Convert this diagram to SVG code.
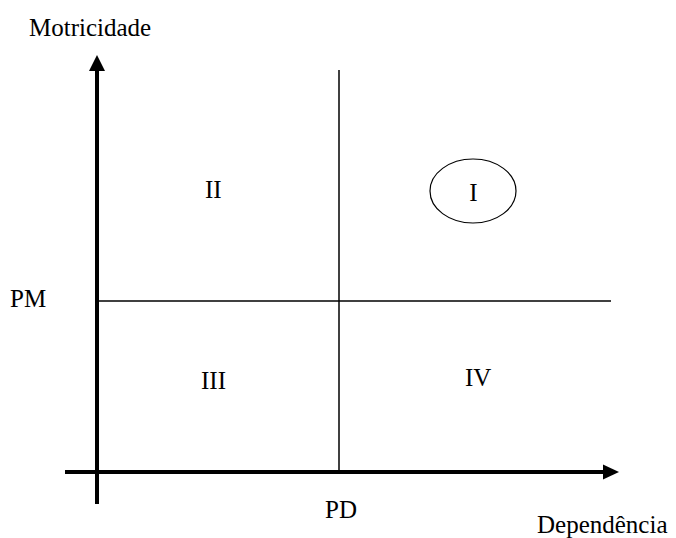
<svg xmlns="http://www.w3.org/2000/svg" width="676" height="538" viewBox="0 0 676 538">
<style>
text{font-family:"Liberation Serif","Times New Roman",serif;font-size:25px;fill:#000}
.axis{stroke:#000;stroke-width:4;fill:none}
.thin{stroke:#000;stroke-width:1.5;fill:none}
</style>
<rect width="676" height="538" fill="#fff"/>
<g id="connectors">
<line class="axis" x1="97" y1="504" x2="97" y2="68"/>
<polygon points="97,55 89,71 105,71" fill="#000"/>
<line class="axis" x1="65" y1="472" x2="606" y2="472"/>
<polygon points="619,472 603,464.5 603,479.5" fill="#000"/>
<line class="thin" x1="339" y1="70" x2="339" y2="472"/>
<line class="thin" x1="97" y1="301" x2="611" y2="301"/>
</g>
<g id="label-motricidade"><text x="29" y="36">Motricidade</text></g>
<g id="label-pm"><text x="10" y="307">PM</text></g>
<g id="label-pd"><text x="325" y="518">PD</text></g>
<g id="label-dependencia"><text x="537" y="533">Dependência</text></g>
<g id="quadrant-II"><text x="205" y="198">II</text></g>
<g id="quadrant-I"><ellipse cx="473" cy="191" rx="43" ry="32" stroke="#000" stroke-width="1.2" fill="none"/><text x="473.5" y="201" text-anchor="middle" font-size="27">I</text></g>
<g id="quadrant-III"><text x="201" y="389">III</text></g>
<g id="quadrant-IV"><text x="465" y="386">IV</text></g>
</svg>
